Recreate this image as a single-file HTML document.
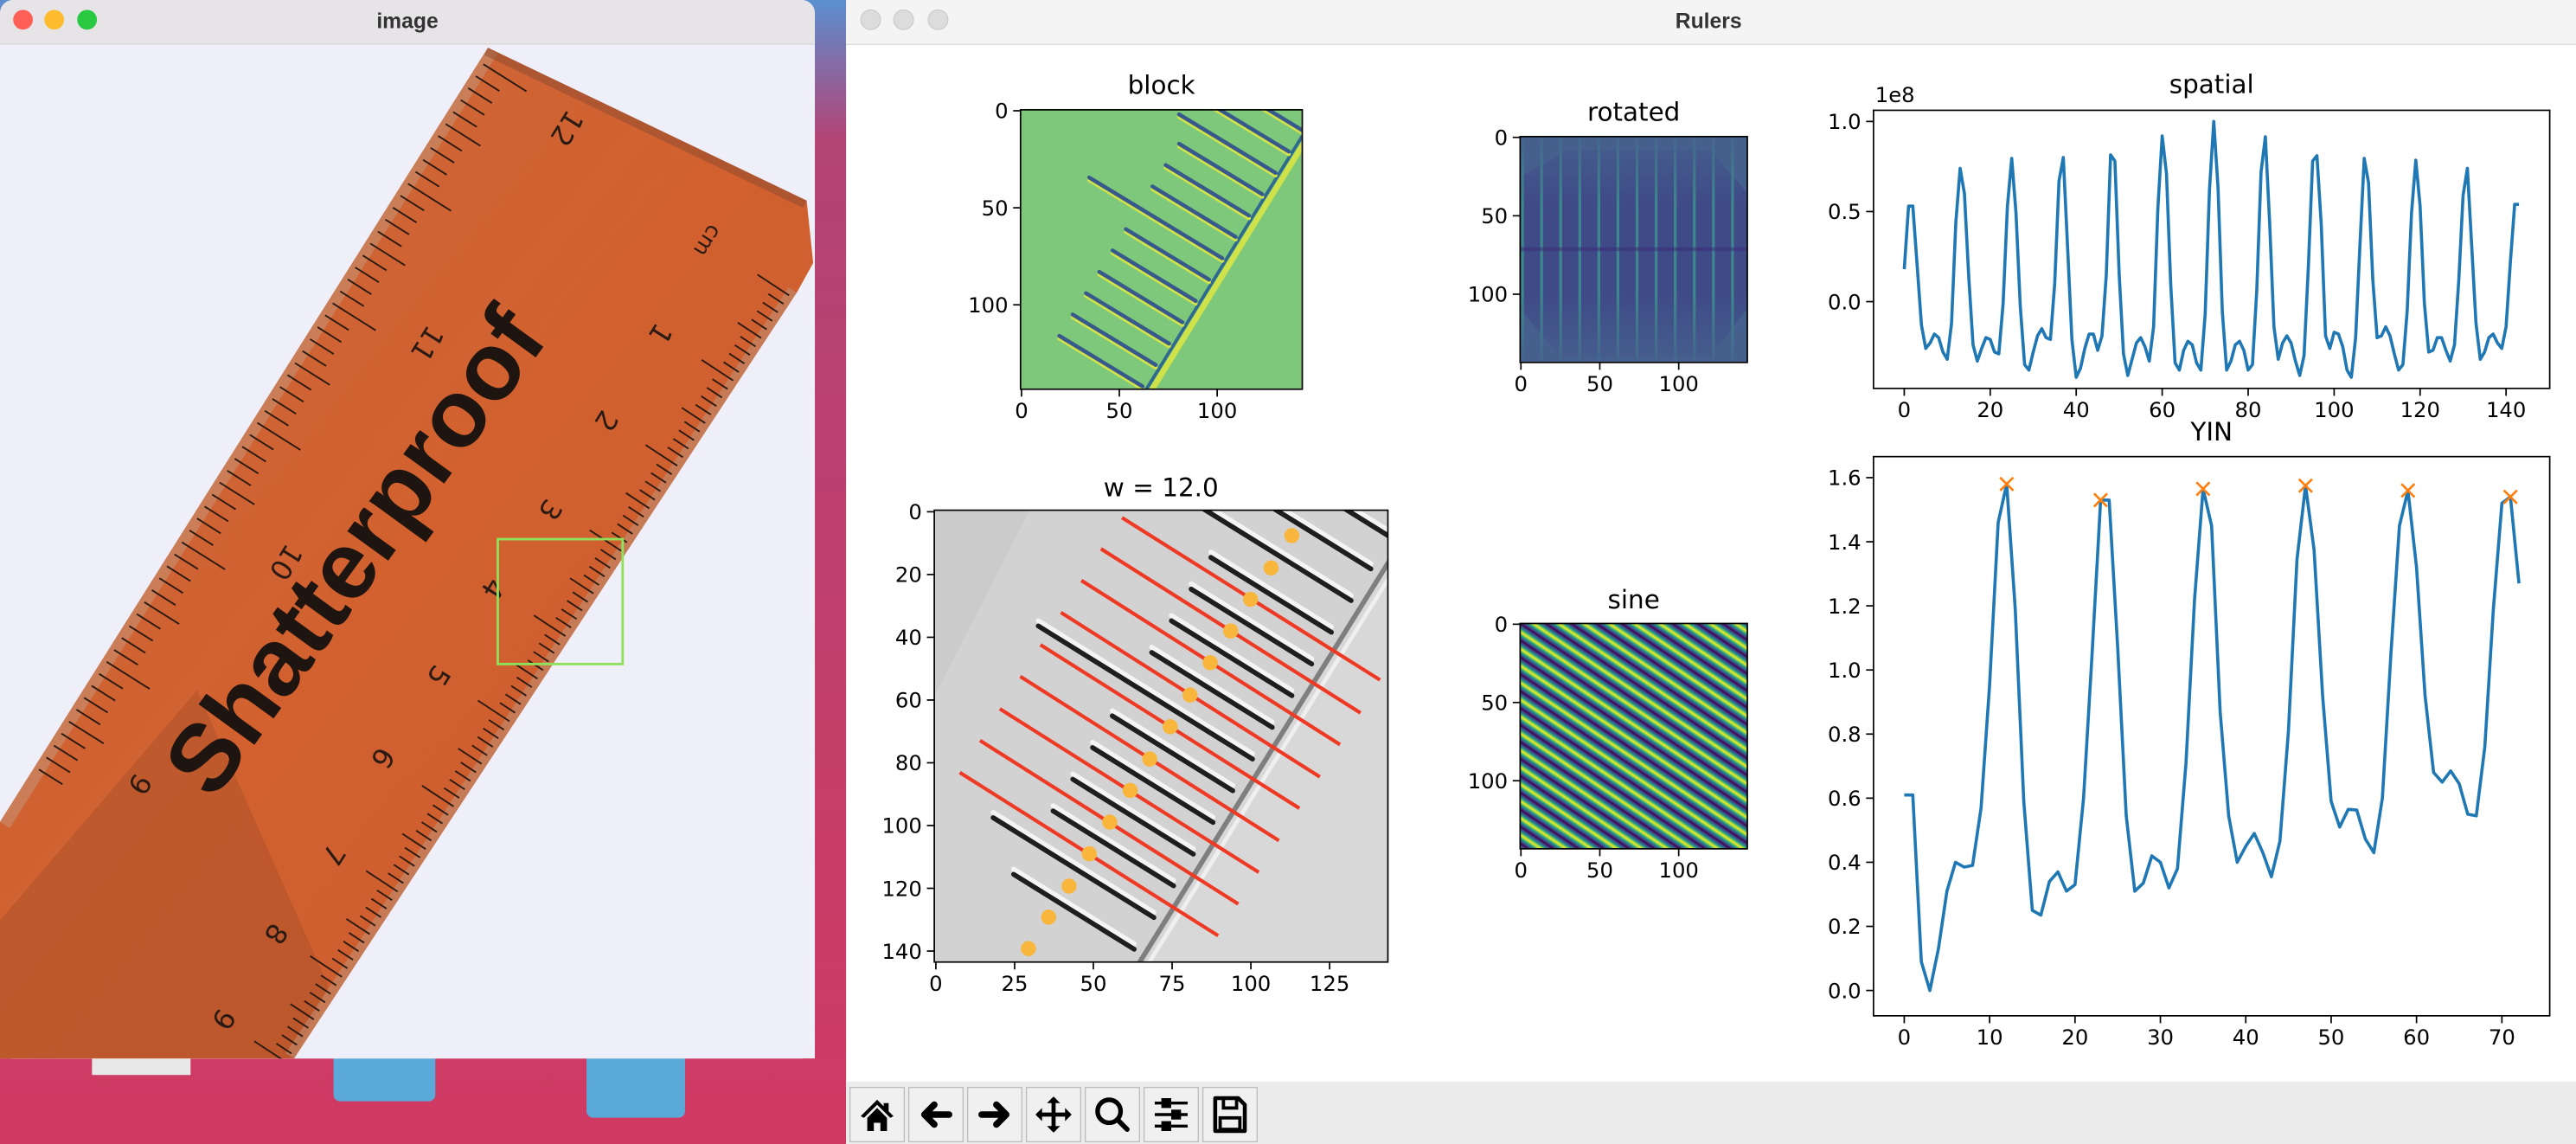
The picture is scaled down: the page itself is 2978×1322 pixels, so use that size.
<!DOCTYPE html>
<html><head><meta charset="utf-8"><style>
html,body{margin:0;padding:0;background:#c73a5c;}
svg{display:block;}
text{font-family:"DejaVu Sans","Liberation Sans",sans-serif;}
</style></head><body>
<svg id="root" width="2978" height="1322" viewBox="0 0 1568 696" preserveAspectRatio="none" xmlns="http://www.w3.org/2000/svg">
<defs>
<linearGradient id="desk" x1="0" y1="0" x2="0" y2="1">
<stop offset="0" stop-color="#5b8fd0"/><stop offset="0.12" stop-color="#b24476"/><stop offset="1" stop-color="#d03a62"/></linearGradient>
<linearGradient id="rulerg" x1="0" y1="0" x2="1" y2="1">
<stop offset="0" stop-color="#c9683e"/><stop offset="0.5" stop-color="#d2612f"/><stop offset="1" stop-color="#c85a30"/></linearGradient>
<linearGradient id="sineg" gradientUnits="userSpaceOnUse" x1="925" y1="379" x2="920.24" y2="386.11" spreadMethod="repeat">
<stop offset="0" stop-color="#440154"/><stop offset="0.14" stop-color="#3b528b"/><stop offset="0.28" stop-color="#21918c"/><stop offset="0.4" stop-color="#7ad151"/><stop offset="0.5" stop-color="#fde725"/><stop offset="0.6" stop-color="#7ad151"/><stop offset="0.72" stop-color="#21918c"/><stop offset="0.86" stop-color="#3b528b"/><stop offset="1" stop-color="#440154"/></linearGradient>
<linearGradient id="rotfade" x1="0" y1="0" x2="0" y2="1">
<stop offset="0" stop-color="#46608e" stop-opacity="0.9"/><stop offset="0.3" stop-color="#46608e" stop-opacity="0"/><stop offset="0.7" stop-color="#46608e" stop-opacity="0"/><stop offset="1" stop-color="#46608e" stop-opacity="0.9"/></linearGradient>
<clipPath id="cpBlock"><rect x="621.2" y="66.8" width="171.5" height="170"/></clipPath>
<clipPath id="cpW"><rect x="568.7" y="310.4" width="276.1" height="274.9"/></clipPath>
<clipPath id="cpRot"><rect x="925.3" y="83.1" width="138.3" height="137.4"/></clipPath>
<clipPath id="cpLeft"><rect x="0" y="27" width="496" height="617"/></clipPath>
<clipPath id="cpRuler"><polygon points="0,500 297,29 491,122 495,160 485,178 179,644 0,644"/></clipPath>
</defs>
<rect x="0" y="0" width="1568" height="696" fill="url(#desk)"/>
<rect x="203" y="640" width="62" height="30" rx="4" fill="#5aa9d8"/>
<rect x="357" y="640" width="60" height="40" rx="4" fill="#5aa9d8"/>
<rect x="56" y="644" width="60" height="10" fill="#e8e8e8"/>

<!-- left window -->
<g>
<rect x="0" y="0" width="496" height="644" rx="8" fill="#eeeff9"/>
<rect x="0" y="0" width="496" height="27" rx="8" fill="#e6e4e6"/>
<rect x="0" y="14" width="496" height="13" fill="#e6e4e6"/>
<line x1="0" y1="27" x2="496" y2="27" stroke="#cfcfcf" stroke-width="0.8"/>
<circle cx="14" cy="12" r="6" fill="#fe5f57"/>
<circle cx="33" cy="12" r="6" fill="#febc2e"/>
<circle cx="53" cy="12" r="6" fill="#28c840"/>
<text x="248" y="17" text-anchor="middle" font-size="13" font-weight="bold" fill="#333" style="font-family:'Liberation Sans',sans-serif">image</text>
<g clip-path="url(#cpLeft)">
<rect x="0" y="27" width="496" height="617" fill="#eeeff9"/>
<polygon points="0,500 297,29 491,122 495,160 485,178 179,644 0,644" fill="url(#rulerg)"/>
<g clip-path="url(#cpRuler)">
<polygon points="0,560 120,420 200,600 179,644 0,644" fill="#9a4a28" opacity="0.35"/>
<line x1="297" y1="29" x2="0" y2="500" stroke="#c79070" stroke-width="14" opacity="0.6"/>
<line x1="485" y1="178" x2="179" y2="644" stroke="#c08c70" stroke-width="12" opacity="0.6"/>
<line x1="297" y1="29" x2="491" y2="122" stroke="#8a4a30" stroke-width="10" opacity="0.5"/>
</g>
<g id="rulerTicks" stroke="#2a1a12" stroke-width="1"></g>
<text x="0" y="0" transform="translate(232,347) rotate(-54)" text-anchor="middle" font-size="58" font-weight="bold" fill="#1f1510" style="font-family:'Liberation Sans',sans-serif">Shatterproof</text>
<g font-size="17" fill="#2a1a14" style="font-family:'Liberation Sans',sans-serif" text-anchor="middle">
<text transform="translate(340,75) rotate(122)">12</text>
<text transform="translate(255,206) rotate(122)">11</text>
<text transform="translate(169,339) rotate(122)">10</text>
<text transform="translate(80,474) rotate(122)">9</text>
<text transform="translate(427,144) rotate(122)" font-size="13">cm</text>
<text transform="translate(397,200) rotate(122)">1</text>
<text transform="translate(364,253) rotate(122)">2</text>
<text transform="translate(330,307) rotate(122)">3</text>
<text transform="translate(295,355) rotate(122)">4</text>
<text transform="translate(262,408) rotate(122)">5</text>
<text transform="translate(228,458) rotate(122)">6</text>
<text transform="translate(198,517) rotate(122)">7</text>
<text transform="translate(163,565) rotate(122)">8</text>
<text transform="translate(131,617) rotate(122)">9</text>
</g>
<rect x="303" y="328" width="76" height="76" fill="none" stroke="#8fe05a" stroke-width="1.5"/>
</g>
</g>

<!-- right window -->
<g>
<rect x="515" y="0" width="1053" height="696" fill="#ffffff"/>
<rect x="515" y="0" width="1053" height="27" fill="#f5f4f5"/>
<line x1="515" y1="27" x2="1568" y2="27" stroke="#dcdcdc" stroke-width="0.8"/>
<circle cx="530" cy="12" r="6" fill="#dcdcdc" stroke="#c8c8c8" stroke-width="0.6"/>
<circle cx="550" cy="12" r="6" fill="#dcdcdc" stroke="#c8c8c8" stroke-width="0.6"/>
<circle cx="571" cy="12" r="6" fill="#dcdcdc" stroke="#c8c8c8" stroke-width="0.6"/>
<text x="1040" y="17" text-anchor="middle" font-size="13" font-weight="bold" fill="#333" style="font-family:'Liberation Sans',sans-serif">Rulers</text>
<rect x="515" y="658" width="1053" height="38" fill="#ececec"/>
<g id="toolbar"></g>
</g>

<g id="charts"></g>
</svg>
<script>
// ---- data ----
const spatialValues = [0.18,0.53,0.53,0.2,-0.13,-0.26,-0.23,-0.18,-0.2,-0.28,-0.32,-0.12,0.44,0.74,0.60,0.14,-0.24,-0.33,-0.26,-0.2,-0.21,-0.28,-0.29,-0.01,0.53,0.795,0.49,-0.03,-0.35,-0.38,-0.28,-0.19,-0.15,-0.2,-0.21,0.10,0.67,0.80,0.30,-0.21,-0.42,-0.37,-0.26,-0.18,-0.18,-0.27,-0.19,0.15,0.815,0.78,0.15,-0.29,-0.41,-0.32,-0.23,-0.2,-0.25,-0.33,-0.14,0.52,0.92,0.71,0.09,-0.34,-0.38,-0.27,-0.22,-0.24,-0.34,-0.38,-0.07,0.62,1.0,0.63,-0.06,-0.38,-0.33,-0.24,-0.22,-0.27,-0.38,-0.35,0.06,0.72,0.915,0.44,-0.14,-0.32,-0.23,-0.19,-0.23,-0.33,-0.41,-0.3,0.19,0.78,0.81,0.43,-0.19,-0.26,-0.17,-0.18,-0.25,-0.38,-0.42,-0.2,0.31,0.795,0.66,0.12,-0.2,-0.19,-0.14,-0.19,-0.29,-0.38,-0.35,-0.05,0.49,0.785,0.53,-0.01,-0.28,-0.27,-0.2,-0.2,-0.27,-0.33,-0.24,0.12,0.59,0.74,0.31,-0.12,-0.32,-0.28,-0.2,-0.18,-0.23,-0.26,-0.14,0.22,0.54,0.54];
const spatialYTicks = [0.0,0.5,1.0];
const spatialYLabels = ["0.0","0.5","1.0"];
const spatialXTicks = [0,20,40,60,80,100,120,140];

const yinValues = [0.61,0.61,0.09,0.0,0.13,0.31,0.40,0.385,0.39,0.57,0.955,1.46,1.58,1.19,0.59,0.25,0.235,0.34,0.37,0.31,0.33,0.60,1.05,1.53,1.53,1.07,0.545,0.31,0.335,0.42,0.40,0.32,0.38,0.71,1.22,1.565,1.45,0.87,0.545,0.40,0.45,0.49,0.43,0.355,0.466,0.81,1.345,1.575,1.375,0.92,0.59,0.51,0.565,0.563,0.473,0.43,0.60,1.05,1.45,1.56,1.32,0.92,0.68,0.65,0.685,0.645,0.55,0.545,0.76,1.19,1.52,1.54,1.27];
const yinPeaks = [12,23,35,47,59,71];
const yinYTicks = [0.0,0.2,0.4,0.6,0.8,1.0,1.2,1.4,1.6];
const yinYLabels = ["0.0","0.2","0.4","0.6","0.8","1.0","1.2","1.4","1.6"];
const yinXTicks = [0,10,20,30,40,50,60,70];

const imgTicks3 = [0,50,100];
const wYTicks = [0,20,40,60,80,100,120,140];
const wXTicks = [0,25,50,75,100,125];
const lineStartX = [59.1,52.4,46.2,39.7,33.2,26.8,20.3,14.0,7.6];
const lineStartY = [1.9,11.8,21.9,32.1,42.4,52.5,62.8,72.9,83.1];
const lineEndX = [141,134.8,128.3,121.9,115.4,108.9,102.5,96.0,89.6];
const lineEndY = [53.6,64.1,74.2,84.5,94.5,104.8,114.9,125,135.1];
const dotX = [113,106.4,99.9,93.6,87.1,80.7,74.4,67.9,61.7,55.2,48.7,42.3,35.8,29.4];
const dotY = [7.6,17.9,27.9,38.0,48.1,58.4,68.5,78.8,88.8,98.9,109,119.3,129.2,139.2];

const NS="http://www.w3.org/2000/svg";
const charts=document.getElementById('charts');
function mk(tag,attrs,parent){const e=document.createElementNS(NS,tag);for(const k in attrs)e.setAttribute(k,attrs[k]);(parent||charts).appendChild(e);return e;}
function txt(s,x,y,size,anchor,parent){const t=mk('text',{x:x,y:y,'font-size':size,'text-anchor':anchor||'middle',fill:'#000'},parent);t.textContent=s;return t;}

function axes(name){
  const g=mk('g',{});
  
  
  return g;
}
function frame(g,x0,y0,x1,y1){
  const r=mk('rect',{x:x0,y:y0,width:x1-x0,height:y1-y0,fill:'none',stroke:'#000','stroke-width':0.9},g);
  
  
}
function xticks(g,vals,labels,sx,yb){
  vals.forEach((v,i)=>{const x=sx(v);
    mk('line',{x1:x,y1:yb,x2:x,y2:yb+4.5,stroke:'#000','stroke-width':0.9},g);
    const t=txt(labels?labels[i]:String(v),x,yb+17.5,12.8,'middle',g);
    
    });
}
function yticks(g,vals,labels,sy,xl){
  vals.forEach((v,i)=>{const y=sy(v);
    mk('line',{x1:xl,y1:y,x2:xl-4.5,y2:y,stroke:'#000','stroke-width':0.9},g);
    const t=txt(labels?labels[i]:String(v),xl-7.5,y+4.6,12.8,'end',g);
    
    });
}
function title(g,s,x,y){const t=txt(s,x,y,15.5,'middle',g);
  
  }

// ---- spatial ----
(function(){
  const X0=1140.4,X1=1552,Y0=67.1,Y1=236.3;
  const sx=v=>X0+(v+7.15)/157.3*(X1-X0);
  const sy=v=>183.5-v*109.6;
  const g=axes('spatial-chart');
  let d='';spatialValues.forEach((v,i)=>{d+=(i?'L':'M')+sx(i).toFixed(2)+','+sy(v).toFixed(2);});
  const p=mk('path',{d:d,fill:'none',stroke:'#1f77b4','stroke-width':1.9,'stroke-linejoin':'round'},g);
  
  
  frame(g,X0,Y0,X1,Y1);
  xticks(g,spatialXTicks,null,sx,Y1);
  yticks(g,spatialYTicks,spatialYLabels,sy,X0);
  const e=txt('1e8',X0+1,Y0-5,12.8,'start',g);
  
  
  title(g,'spatial',(X0+X1)/2,56.5);
})();

// ---- YIN ----
(function(){
  const X0=1140.4,X1=1552,Y0=277.8,Y1=618;
  const sx=v=>X0+(v+3.6)/79.2*(X1-X0);
  const sy=v=>602.6-v*195;
  const g=axes('yin-chart');
  let d='';yinValues.forEach((v,i)=>{d+=(i?'L':'M')+sx(i).toFixed(2)+','+sy(v).toFixed(2);});
  const p=mk('path',{d:d,fill:'none',stroke:'#1f77b4','stroke-width':1.9,'stroke-linejoin':'round'},g);
  
  
  yinPeaks.forEach(i=>{const x=sx(i),y=sy(yinValues[i]),s=4;
    const m=mk('path',{d:`M${x-s},${y-s}L${x+s},${y+s}M${x-s},${y+s}L${x+s},${y-s}`,stroke:'#ff7f0e','stroke-width':1.4},g);
    
    });
  frame(g,X0,Y0,X1,Y1);
  xticks(g,yinXTicks,null,sx,Y1);
  yticks(g,yinYTicks,yinYLabels,sy,X0);
  title(g,'YIN',(X0+X1)/2,268);
})();

// ---- block image ----
(function(){
  const X0=621.2,X1=792.7,Y0=66.8,Y1=236.8;
  const sx=v=>X0+(v+0.5)*(X1-X0)/144, sy=v=>Y0+(v+0.5)*(Y1-Y0)/144;
  const g=axes('block-image');
  const ig=mk('g',{'clip-path':'url(#cpBlock)'},g);
  mk('rect',{x:X0,y:Y0,width:X1-X0,height:Y1-Y0,fill:'#7dc87a'},ig);
  mk('line',{x1:sx(66.5),y1:sy(144),x2:sx(146),y2:sy(14),stroke:'#cfe24a','stroke-width':3.5},ig);
  mk('line',{x1:sx(63.5),y1:sy(144),x2:sx(143.5),y2:sy(13),stroke:'#2f6a8e','stroke-width':2},ig);
  for(let k=0;k<14;k++){
    const ry=-1+k*11; const rx=64.9+(143.5-ry)*0.618-4;
    const L=(k===7)?80:(k===3?58:50);
    const lx=rx-L*0.85, ly=ry-L*0.52;
    mk('line',{x1:sx(lx),y1:sy(ly)+1.6,x2:sx(rx),y2:sy(ry)+1.6,stroke:'#d2e34a','stroke-width':2.4,'stroke-linecap':'round'},ig);
    mk('line',{x1:sx(lx),y1:sy(ly),x2:sx(rx),y2:sy(ry),stroke:'#38598c','stroke-width':2.4,'stroke-linecap':'round'},ig);
  }
  frame(g,X0,Y0,X1,Y1);
  xticks(g,imgTicks3,null,sx,Y1);
  yticks(g,imgTicks3,null,sy,X0);
  title(g,'block',(X0+X1)/2,57);
})();

// ---- rotated ----
(function(){
  const X0=925.3,X1=1063.6,Y0=83.1,Y1=220.5;
  const sx=v=>X0+(v+0.5)*(X1-X0)/144, sy=v=>Y0+(v+0.5)*(Y1-Y0)/144;
  const g=axes('rotated-image');
  const ig=mk('g',{'clip-path':'url(#cpRot)'},g);
  mk('rect',{x:X0,y:Y0,width:X1-X0,height:Y1-Y0,fill:'#46608e'},ig);
  mk('polygon',{points:`${sx(0)},${sy(25)} ${sx(30)},${sy(8)} ${sx(120)},${sy(8)} ${sx(143)},${sy(35)} ${sx(143)},${sy(110)} ${sx(120)},${sy(140)} ${sx(25)},${sy(140)} ${sx(0)},${sy(110)}`,fill:'#3f4b87'},ig);
  for(let k=0;k<12;k++){
    const x=sx(1+k*12.1);
    mk('line',{x1:x,y1:Y0,x2:x,y2:Y1,stroke:'#3e9c8e','stroke-width':1.7,opacity:0.75},ig);
  }
  mk('rect',{x:X0,y:Y0,width:X1-X0,height:Y1-Y0,fill:'url(#rotfade)'},ig);
  mk('rect',{x:X0,y:sy(70),width:X1-X0,height:2.5,fill:'#3a2a78',opacity:0.5},ig);
  frame(g,X0,Y0,X1,Y1);
  xticks(g,imgTicks3,null,sx,Y1);
  yticks(g,imgTicks3,null,sy,X0);
  title(g,'rotated',(X0+X1)/2,73.5);
})();

// ---- sine ----
(function(){
  const X0=925.3,X1=1063.6,Y0=379.3,Y1=516.4;
  const sx=v=>X0+(v+0.5)*(X1-X0)/144, sy=v=>Y0+(v+0.5)*(Y1-Y0)/144;
  const g=axes('sine-image');
  mk('rect',{x:X0,y:Y0,width:X1-X0,height:Y1-Y0,fill:'url(#sineg)'},g);
  frame(g,X0,Y0,X1,Y1);
  xticks(g,imgTicks3,null,sx,Y1);
  yticks(g,imgTicks3,null,sy,X0);
  title(g,'sine',(X0+X1)/2,370);
})();

// ---- w = 12.0 ----
(function(){
  const X0=568.7,X1=844.8,Y0=310.4,Y1=585.3;
  const sx=v=>X0+(v+0.5)*(X1-X0)/144, sy=v=>Y0+(v+0.5)*(Y1-Y0)/144;
  const g=axes('w-image');
  const ig=mk('g',{'clip-path':'url(#cpW)'},g);
  mk('rect',{x:X0,y:Y0,width:X1-X0,height:Y1-Y0,fill:'#d2d2d2'},ig);
  mk('polygon',{points:`${sx(-1)},${sy(60)} ${sx(30)},${sy(-1)} ${sx(-1)},${sy(-1)}`,fill:'#cbcbcb'},ig);
  mk('polygon',{points:`${sx(66)},${sy(144)} ${sx(144)},${sy(15.6)} ${sx(144)},${sy(144)}`,fill:'#d8d8d8'},ig);
  mk('line',{x1:sx(64.4),y1:sy(144),x2:sx(144),y2:sy(15.6),stroke:'#7f7f7f','stroke-width':3},ig);
  mk('line',{x1:sx(67.5),y1:sy(144),x2:sx(147),y2:sy(16),stroke:'#efefef','stroke-width':2.5},ig);
  for(let k=0;k<15;k++){
    const ry=-2+k*10.1, rx=64.4+(143.5-ry)*0.62-4;
    const L=(k===8)?80:(k===3||k===13?60:45);
    const lx=rx-L*0.85, ly=ry-L*0.53;
    mk('line',{x1:sx(lx),y1:sy(ly)-3.2,x2:sx(rx),y2:sy(ry)-3.2,stroke:'#f4f4f4','stroke-width':3,'stroke-linecap':'round'},ig);
    mk('line',{x1:sx(lx),y1:sy(ly),x2:sx(rx),y2:sy(ry),stroke:'#1e1e1e','stroke-width':3,'stroke-linecap':'round'},ig);
  }
  lineStartX.forEach((v,i)=>{
    const l=mk('line',{x1:sx(v),y1:sy(lineStartY[i]),x2:sx(lineEndX[i]),y2:sy(lineEndY[i]),stroke:'#ee3a24','stroke-width':2.2},ig);
    
    
  });
  dotX.forEach((v,i)=>{
    const c=mk('circle',{cx:sx(v),cy:sy(dotY[i]),r:4.6,fill:'#f8b63c'},ig);
    
    
  });
  frame(g,X0,Y0,X1,Y1);
  xticks(g,wXTicks,null,sx,Y1);
  yticks(g,wYTicks,null,sy,X0);
  title(g,'w = 12.0',(X0+X1)/2,302);
})();

// ---- toolbar ----
(function(){
  const tb=document.getElementById('toolbar');
  const names=['home-button','back-button','forward-button','pan-button','zoom-button','configure-subplots-button','save-button'];
  names.forEach((n,i)=>{
    const x=517.4+i*35.8, y=661.6, w=33, h=33;
    const g=mk('g',{},tb);
    
    
    mk('rect',{x:x,y:y,width:w,height:h,fill:'#f0f0f0',stroke:'#bdbdbd','stroke-width':0.7},g);
    const cx=x+w/2, cy=y+h/2;
    if(i===0){mk('path',{d:`M${cx-10},${cy+1}L${cx},${cy-9}L${cx+10},${cy+1}L${cx+8},${cy+2}L${cx},${cy-6}L${cx-8},${cy+2}Z M${cx-6},${cy+2}L${cx},${cy-4}L${cx+6},${cy+2}V${cy+10}H${cx+2}V${cy+5}H${cx-2}V${cy+10}H${cx-6}Z M${cx+4},${cy-7}h3v5h-3z`,fill:'#000'},g);}
    if(i===1){mk('path',{d:`M${cx+8},${cy}H${cx-6}M${cx-1},${cy-6}L${cx-7},${cy}L${cx-1},${cy+6}`,stroke:'#000','stroke-width':4,fill:'none','stroke-linecap':'round','stroke-linejoin':'round'},g);}
    if(i===2){mk('path',{d:`M${cx-8},${cy}H${cx+6}M${cx+1},${cy-6}L${cx+7},${cy}L${cx+1},${cy+6}`,stroke:'#000','stroke-width':4,fill:'none','stroke-linecap':'round','stroke-linejoin':'round'},g);}
    if(i===3){mk('path',{d:`M${cx-10},${cy}H${cx+10}M${cx},${cy-10}V${cy+10}`,stroke:'#000','stroke-width':2.5},g);
      mk('path',{d:`M${cx-11},${cy}l4,-4v8z M${cx+11},${cy}l-4,-4v8z M${cx},${cy-11}l-4,4h8z M${cx},${cy+11}l-4,-4h8z`,fill:'#000'},g);}
    if(i===4){mk('circle',{cx:cx-2,cy:cy-2,r:7,fill:'none',stroke:'#000','stroke-width':2.8},g);
      mk('line',{x1:cx+3,y1:cy+3,x2:cx+9,y2:cy+9,stroke:'#000','stroke-width':3,'stroke-linecap':'round'},g);}
    if(i===5){[[-7,-3],[0,3],[7,-3]].forEach(a=>{mk('line',{x1:cx-10,y1:cy+a[0],x2:cx+10,y2:cy+a[0],stroke:'#000','stroke-width':1.8},g);
      mk('rect',{x:cx+a[1]-3,y:cy+a[0]-3,width:6,height:6,fill:'#000'},g);});}
    if(i===6){mk('path',{d:`M${cx-9},${cy-10}H${cx+5}L${cx+9},${cy-6}V${cy+10}H${cx-9}Z`,fill:'none',stroke:'#000','stroke-width':2.4,'stroke-linejoin':'round'},g);
      mk('rect',{x:cx-4,y:cy-10,width:8,height:6,fill:'none',stroke:'#000','stroke-width':2},g);
      mk('rect',{x:cx-6,y:cy+2,width:12,height:7,fill:'none',stroke:'#000','stroke-width':2},g);}
  });
})();

// ---- ruler ticks in photo ----
(function(){
  const g=document.getElementById('rulerTicks');
  // upper edge (297,29)->(0,500): inch-style ticks, inward normal (0.846,0.533)
  const ux=-297/557, uy=471/557;
  for(let k=0;k<60;k++){
    const s=10+k*8.6, x=297+ux*s, y=29+uy*s;
    const L=(k%10===0)?34:((k%5===0)?28:20);
    mk('line',{x1:x+0.846*3,y1:y+0.533*3,x2:x+0.846*L,y2:y+0.533*L},g);
  }
  // lower edge (485,178)->(179,644): mm ticks, inward normal (-0.836,-0.549)
  const lx=-306/557.5, ly=466/557.5;
  for(let k=0;k<92;k++){
    const s=4+k*6.2, x=485+lx*s, y=178+ly*s;
    const L=(k%10===0)?26:((k%5===0)?20:14);
    mk('line',{x1:x-0.836*3,y1:y-0.549*3,x2:x-0.836*L,y2:y-0.549*L},g);
  }
})();
</script>
</body></html>
